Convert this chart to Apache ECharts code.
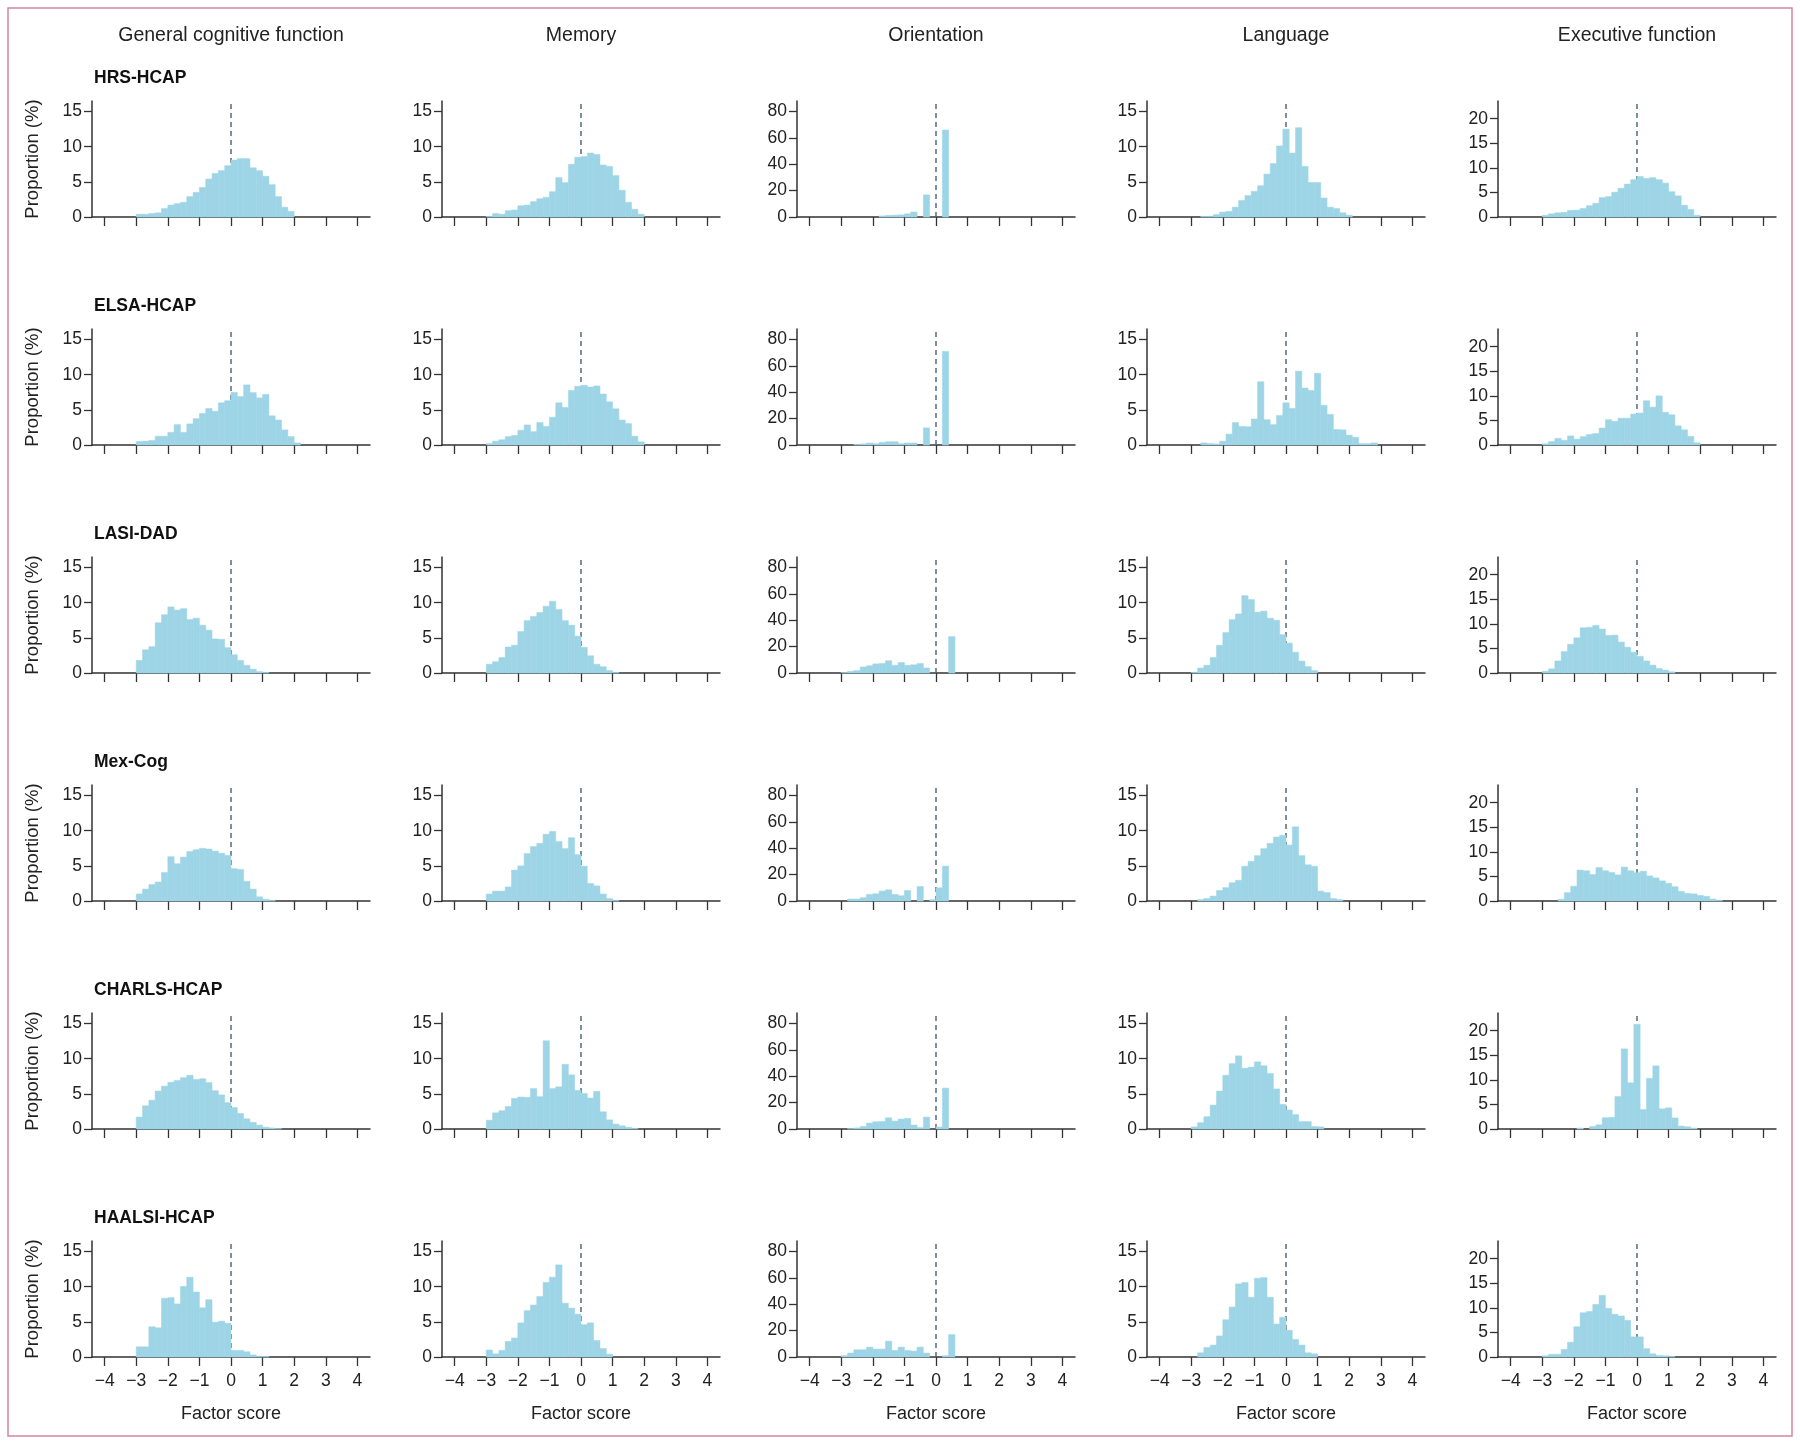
<!DOCTYPE html>
<html>
<head>
<meta charset="utf-8">
<title>Factor score distributions by cohort</title>
<script src="https://cdn.jsdelivr.net/npm/echarts@6/dist/echarts.min.js"></script>
<style>
  html, body { margin: 0; padding: 0; background: #fff; }
  #main { width: 1800px; height: 1444px; }
</style>
</head>
<body>
<div id="main"></div>
<script>
const cohorts = ['HRS-HCAP', 'ELSA-HCAP', 'LASI-DAD', 'Mex-Cog', 'CHARLS-HCAP', 'HAALSI-HCAP'];
const domains = ['General cognitive function', 'Memory', 'Orientation', 'Language', 'Executive function'];
const xTicks = [-4, -3, -2, -1, 0, 1, 2, 3, 4];
const yTicks = [[0, 5, 10, 15], [0, 5, 10, 15], [0, 20, 40, 60, 80], [0, 5, 10, 15], [0, 5, 10, 15, 20]];
const yMax = [16.5, 16.5, 88, 16.5, 23.6];
const binWidth = 0.2;

// left edge of first bin for each panel: general, memory, orientation, language, executive
const hrsStarts = [-3.0, -3.0, -1.8, -2.7, -3.0];
const hrsGeneral = [0.4, 0.4, 0.5, 0.6, 1.2, 1.7, 1.9, 2.1, 2.9, 3.5, 4.2, 5.4, 6.2, 6.6, 7.3, 8.1, 8.3, 8.3, 7.0, 6.6, 5.8, 4.6, 2.9, 1.4, 0.8];
const hrsMemory = [0.1, 0.5, 0.4, 0.9, 1.0, 1.6, 1.7, 2.2, 2.6, 2.8, 3.6, 5.6, 4.9, 7.5, 8.5, 8.6, 9.1, 8.9, 7.4, 7.2, 5.9, 3.8, 2.1, 1.1, 0.4];
const hrsOrientation = [0.8, 1.2, 1.4, 1.6, 2.4, 3.8, 0, 16.8, 0, 0, 66];
const hrsLanguage = [0.1, 0.1, 0.35, 0.7, 0.8, 1.4, 2.35, 3.05, 3.65, 4.45, 6.1, 7.6, 10.1, 12.5, 9.1, 12.7, 7.2, 4.9, 4.9, 2.7, 1.4, 1.2, 0.6, 0.25];
const hrsExecutive = [0.35, 0.65, 0.85, 0.95, 1.35, 1.4, 1.75, 2.3, 2.8, 3.95, 4.15, 5.05, 5.85, 6.7, 7.6, 8.25, 7.85, 8.0, 7.6, 6.9, 5.15, 4.3, 2.4, 1.55, 0.35];

const elsaStarts = [-3.0, -3.0, -2.6, -2.7, -3.0];
const elsaGeneral = [0.5, 0.55, 0.65, 1.25, 1.25, 1.8, 2.9, 1.8, 3.0, 3.75, 4.5, 5.2, 4.8, 6.0, 6.3, 7.5, 6.9, 8.55, 7.45, 6.7, 7.2, 4.15, 3.55, 2.15, 1.2, 0.3];
const elsaMemory = [0.2, 0.55, 0.75, 1.2, 1.35, 2.1, 2.85, 1.9, 3.2, 2.65, 3.95, 6.0, 5.35, 7.75, 8.35, 8.5, 8.25, 8.4, 7.25, 6.15, 5.15, 3.55, 3.05, 1.25, 0.45];
const elsaOrientation = [0.5, 0.8, 1.5, 1.0, 2.0, 2.5, 2.5, 1.0, 1.5, 1.5, 0, 13, 0, 0, 71];
const elsaLanguage = [0.3, 0.2, 0.15, 0.55, 1.55, 3.2, 2.65, 2.6, 3.7, 9.0, 3.6, 2.9, 4.2, 6.0, 5.2, 10.5, 8.1, 7.75, 10.2, 5.65, 4.35, 2.2, 2.15, 1.4, 1.1, 0.2, 0.2, 0.3];
const elsaExecutive = [0.25, 0.7, 1.35, 0.95, 1.85, 1.2, 1.7, 2.15, 2.35, 3.45, 5.15, 4.8, 5.45, 5.45, 6.3, 6.5, 9.0, 7.7, 10.0, 6.65, 6.15, 3.9, 3.1, 1.75, 0.45];

const lasiStarts = [-3.0, -3.0, -3.0, -3.0, -3.0];
const lasiGeneral = [1.8, 3.3, 3.75, 7.15, 8.3, 9.4, 8.95, 9.15, 7.6, 7.8, 6.8, 6.1, 4.85, 4.8, 3.6, 2.6, 1.8, 1.1, 0.55, 0.2, 0.1];
const lasiMemory = [1.25, 1.6, 2.2, 3.7, 3.95, 5.9, 7.45, 8.05, 8.6, 9.5, 10.2, 9.05, 7.45, 6.8, 5.25, 3.65, 2.45, 1.25, 0.9, 0.35, 0.1];
const lasiOrientation = [0.4, 1.2, 1.8, 4.6, 5.5, 6.9, 7.2, 9.3, 5.9, 8.0, 5.8, 6.2, 7.2, 3.8, 0, 0, 0, 27.6];
const lasiLanguage = [0.1, 0.7, 1.1, 2.2, 3.95, 5.75, 7.6, 8.4, 11.0, 10.45, 8.65, 8.8, 7.8, 7.5, 5.45, 4.25, 2.95, 1.7, 0.9, 0.35];
const lasiExecutive = [0.35, 0.85, 2.45, 4.35, 5.85, 7.15, 9.2, 9.3, 9.7, 8.95, 7.65, 7.7, 6.3, 5.25, 4.25, 3.4, 2.45, 1.6, 0.9, 0.6, 0.25];

const mexStarts = [-3.0, -3.0, -2.8, -2.8, -2.5];
const mexGeneral = [1.0, 1.7, 2.35, 2.7, 4.05, 6.3, 5.3, 6.25, 7.05, 7.3, 7.5, 7.4, 7.1, 6.8, 6.5, 4.6, 4.5, 2.8, 1.7, 0.6, 0.25, 0.1];
const mexMemory = [1.0, 1.4, 1.4, 2.0, 4.4, 5.0, 6.75, 7.75, 8.2, 9.5, 9.9, 8.45, 7.45, 9.0, 6.6, 4.95, 2.5, 2.15, 1.0, 0.35, 0.1];
const mexOrientation = [1.5, 1.5, 2.5, 5.0, 5.5, 7.5, 8.5, 5.0, 4.0, 8.0, 0, 11.0, 0, 1.0, 10.0, 26.5];
const mexLanguage = [0.2, 0.35, 0.7, 1.5, 1.9, 2.6, 2.95, 4.95, 5.65, 6.45, 7.45, 8.2, 9.1, 9.35, 7.95, 10.55, 6.45, 5.15, 4.95, 1.4, 1.2, 0.35, 0.2];
const mexExecutive = [0.35, 1.7, 3.0, 6.3, 6.15, 5.4, 6.8, 6.15, 5.8, 5.3, 6.9, 6.15, 5.75, 6.05, 5.1, 4.7, 4.1, 3.6, 2.9, 1.95, 1.55, 1.45, 1.15, 0.95, 0.4, 0.15];

const charlsStarts = [-3.0, -3.0, -2.8, -3.0, -1.9];
const charlsGeneral = [1.7, 3.3, 4.1, 5.4, 6.1, 6.65, 6.9, 7.3, 7.65, 7.05, 7.15, 6.6, 5.45, 4.85, 3.75, 3.05, 2.2, 1.45, 0.95, 0.55, 0.25, 0.15, 0.05];
const charlsMemory = [1.25, 2.3, 2.6, 3.2, 4.35, 4.55, 4.5, 5.75, 4.6, 12.55, 5.75, 6.0, 9.2, 7.7, 5.5, 5.05, 4.4, 5.35, 2.45, 1.3, 0.7, 0.45, 0.25, 0.1];
const charlsOrientation = [0.3, 0.8, 2.0, 4.5, 5.5, 5.7, 8.5, 6.0, 7.5, 8.0, 3.0, 1.0, 9.0, 0, 1.5, 31];
const charlsLanguage = [0.3, 0.9, 1.75, 3.4, 5.4, 7.65, 9.3, 10.4, 8.65, 8.8, 9.55, 9.0, 7.9, 5.7, 3.5, 2.7, 2.05, 1.05, 1.05, 0.35, 0.3];
const charlsExecutive = [0.2, 0, 0.5, 0.85, 2.3, 2.35, 6.6, 16.3, 9.4, 21.3, 3.95, 10.3, 12.85, 4.1, 4.3, 2.25, 0.6, 0.45, 0.2];

const haalsiStarts = [-3.0, -3.0, -3.0, -2.8, -3.0];
const haalsiGeneral = [1.45, 1.45, 4.3, 4.15, 8.35, 8.45, 7.55, 10.05, 11.35, 9.25, 7.0, 8.15, 4.95, 5.1, 4.8, 0.95, 0.95, 0.75, 0.3, 0.1, 0.1];
const haalsiMemory = [1.0, 0.45, 0.95, 2.2, 2.7, 4.85, 6.6, 7.4, 8.6, 10.6, 11.35, 13.1, 7.65, 6.95, 6.1, 4.6, 4.85, 2.35, 1.2, 0.4];
const haalsiOrientation = [1.0, 3.0, 5.5, 5.5, 7.5, 6.0, 6.0, 12.0, 5.0, 7.5, 5.0, 4.5, 7.5, 3.0, 0, 0, 1.0, 17];
const haalsiLanguage = [0.6, 1.35, 1.7, 3.0, 5.3, 7.1, 10.4, 10.6, 8.5, 11.2, 11.3, 8.5, 4.7, 5.65, 3.8, 2.5, 1.7, 0.6, 0.45];
const haalsiExecutive = [0.25, 0.55, 0.55, 1.55, 3.0, 6.15, 9.0, 9.25, 10.7, 12.55, 9.9, 8.7, 8.35, 7.45, 4.1, 4.1, 1.7, 0.65, 0.3, 0.25, 0.1];

const starts = [hrsStarts, elsaStarts, lasiStarts, mexStarts, charlsStarts, haalsiStarts];
const panels = [
  [hrsGeneral, hrsMemory, hrsOrientation, hrsLanguage, hrsExecutive],
  [elsaGeneral, elsaMemory, elsaOrientation, elsaLanguage, elsaExecutive],
  [lasiGeneral, lasiMemory, lasiOrientation, lasiLanguage, lasiExecutive],
  [mexGeneral, mexMemory, mexOrientation, mexLanguage, mexExecutive],
  [charlsGeneral, charlsMemory, charlsOrientation, charlsLanguage, charlsExecutive],
  [haalsiGeneral, haalsiMemory, haalsiOrientation, haalsiLanguage, haalsiExecutive]
];

// layout
const colLeft = [92, 442, 797, 1147, 1498];
const gridWidth = 278;
const gridHeight = 116;
const firstZero = 217;
const rowStep = 228;
const font = "'Liberation Sans', Arial, sans-serif";
const barColor = '#9dd5e6';
const axisColor = '#333';

let myChart = echarts.init(document.getElementById('main'), null, { renderer: 'canvas' });

let grid = [], xAxis = [], yAxis = [], series = [];
let graphic = [
  {
    type: 'rect',
    shape: { x: 8, y: 8, width: 1784, height: 1428 },
    style: { fill: 'none', stroke: '#d9839f', lineWidth: 1.5 }
  }
];

domains.forEach((d, c) => {
  graphic.push({
    type: 'text',
    x: colLeft[c] + gridWidth / 2,
    y: 36,
    style: { text: d, align: 'center', verticalAlign: 'middle', fontSize: 19.5, fontFamily: font, fill: '#222' }
  });
});

cohorts.forEach((name, r) => {
  graphic.push({
    type: 'text',
    x: 94,
    y: 78 + r * rowStep,
    style: { text: name, align: 'left', verticalAlign: 'middle', fontSize: 17.5, fontWeight: 'bold', fontFamily: font, fill: '#111' }
  });

  for (let c = 0; c < 5; c++) {
    let idx = grid.length;
    let bottom = r === cohorts.length - 1;
    grid.push({
      left: colLeft[c],
      top: firstZero + r * rowStep - gridHeight,
      width: gridWidth,
      height: gridHeight
    });
    xAxis.push({
      type: 'value',
      gridIndex: idx,
      min: -4.4,
      max: 4.4,
      axisLine: { show: true, onZero: false, lineStyle: { color: axisColor, width: 1.5 } },
      axisTick: { show: true, customValues: xTicks, length: 9, lineStyle: { color: axisColor, width: 1.3 } },
      axisLabel: {
        show: bottom,
        customValues: xTicks,
        margin: 15,
        fontSize: 17.5,
        fontFamily: font,
        color: '#222',
        formatter: v => (v < 0 ? '\u2212' + Math.abs(v) : String(v))
      },
      splitLine: { show: false },
      name: bottom ? 'Factor score' : '',
      nameLocation: 'middle',
      nameGap: 48,
      nameTextStyle: { fontSize: 18, fontFamily: font, color: '#222' }
    });
    yAxis.push({
      type: 'value',
      gridIndex: idx,
      min: 0,
      max: yMax[c],
      axisLine: { show: true, onZero: false, lineStyle: { color: axisColor, width: 1.5 } },
      axisTick: { show: true, customValues: yTicks[c], length: 8, lineStyle: { color: axisColor, width: 1.3 } },
      axisLabel: { customValues: yTicks[c], margin: 10, fontSize: 17.5, fontFamily: font, color: '#222' },
      splitLine: { show: false },
      name: c === 0 ? 'Proportion (%)' : '',
      nameLocation: 'middle',
      nameGap: 50,
      nameTextStyle: { fontSize: 18.5, fontFamily: font, color: '#222' }
    });

    // reference line at factor score 0
    series.push({
      type: 'line',
      xAxisIndex: idx,
      yAxisIndex: idx,
      data: [[0, 0], [0, yMax[c]]],
      symbol: 'none',
      silent: true,
      z: 2,
      lineStyle: { color: '#4f6b78', width: 1.5, type: [5, 4] }
    });

    let start = starts[r][c];
    let data = panels[r][c]
      .map((v, i) => [+(start + i * binWidth).toFixed(2), +(start + (i + 1) * binWidth).toFixed(2), v])
      .filter(itm => itm[2] > 0);
    series.push({
      type: 'custom',
      xAxisIndex: idx,
      yAxisIndex: idx,
      z: 3,
      silent: true,
      encode: { x: [0, 1], y: 2 },
      data: data,
      renderItem: (params, api) => {
        let p0 = api.coord([api.value(0), 0]);
        let p1 = api.coord([api.value(1), api.value(2)]);
        return {
          type: 'rect',
          shape: { x: p0[0], y: p1[1], width: p1[0] - p0[0], height: p0[1] - p1[1] },
          style: { fill: barColor, stroke: barColor, lineWidth: 0.5 }
        };
      }
    });
  }
});

let option = {
  animation: false,
  backgroundColor: '#fff',
  textStyle: { fontFamily: font },
  grid: grid,
  xAxis: xAxis,
  yAxis: yAxis,
  graphic: graphic,
  series: series
};
myChart.setOption(option, true);
</script>
</body>
</html>
